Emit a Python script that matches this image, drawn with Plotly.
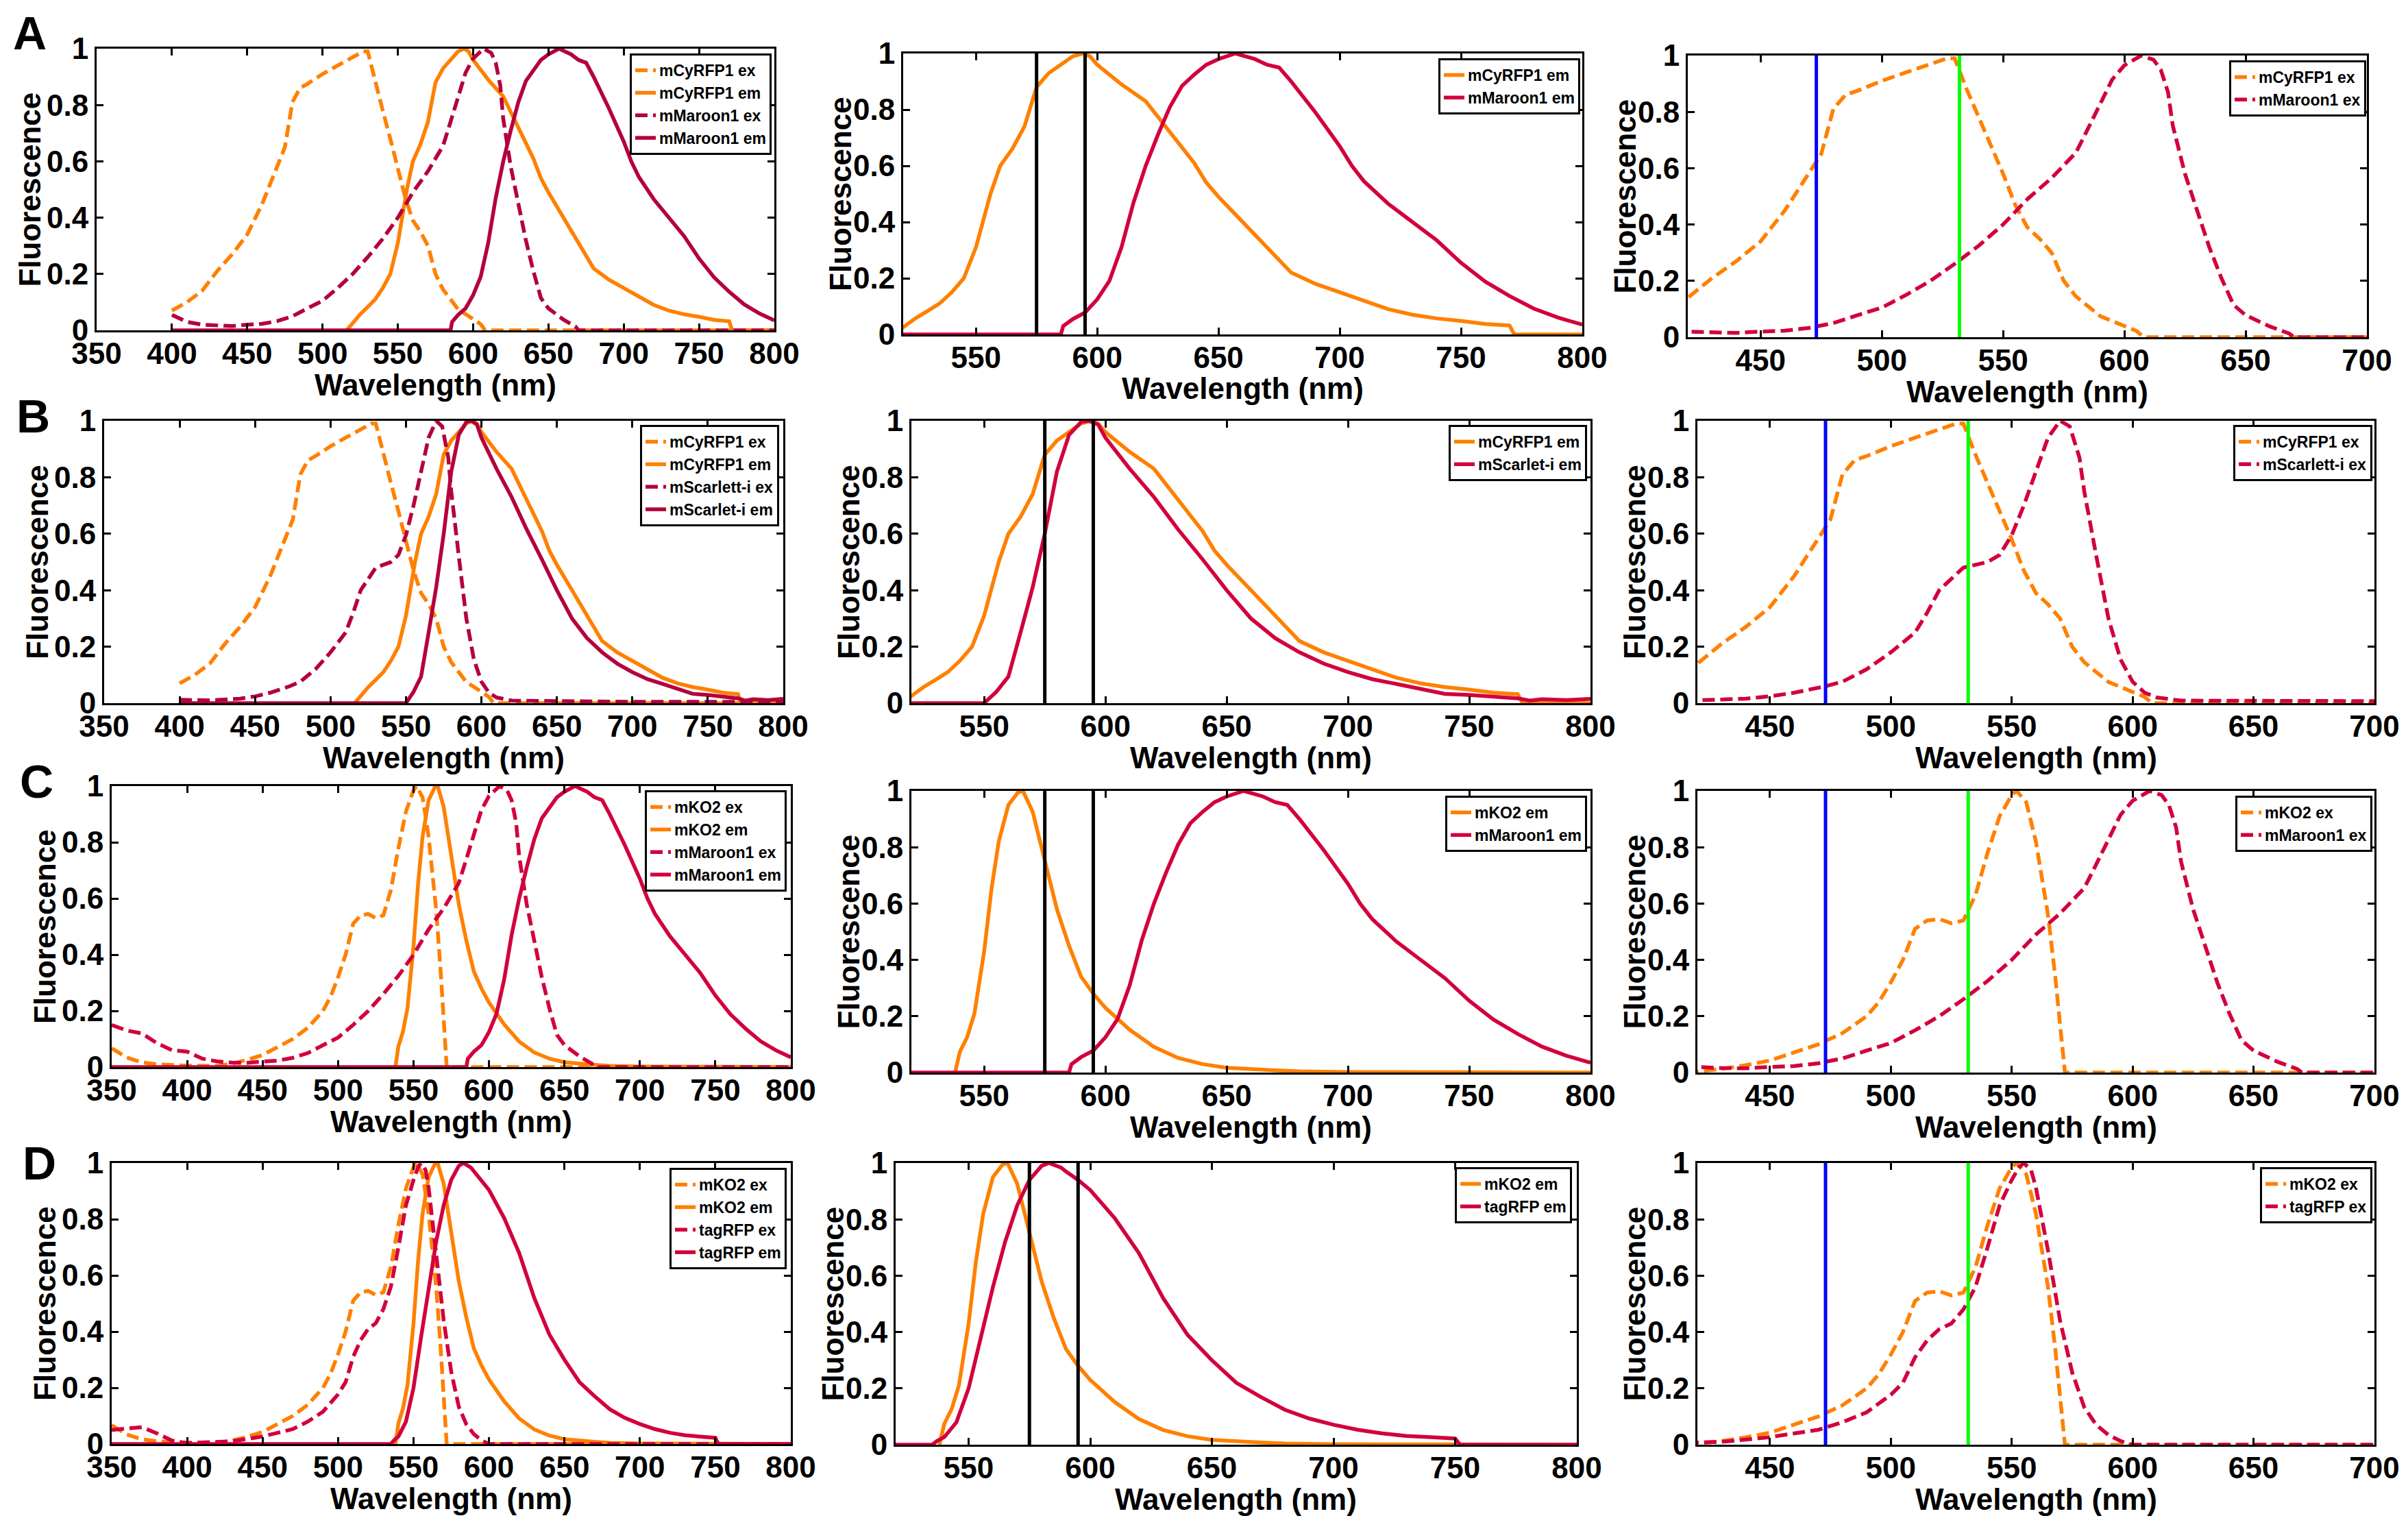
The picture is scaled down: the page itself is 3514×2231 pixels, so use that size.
import plotly.graph_objects as go

# ---- spectra (wavelength nm, normalised fluorescence) ----
mcyrfp1_ex_wl = [400, 410, 420, 430, 440, 450, 460, 470, 475, 480, 485, 490, 500, 510, 520, 527, 530,
                 535, 540, 545, 550, 555, 560, 565, 570, 575, 580, 590, 600, 605, 608, 800]
mcyrfp1_ex = [0.07, 0.10, 0.14, 0.21, 0.27, 0.34, 0.45, 0.58, 0.65, 0.81, 0.86, 0.875, 0.91, 0.94, 0.97, 0.99, 0.99,
              0.88, 0.78, 0.68, 0.58, 0.47, 0.39, 0.35, 0.30, 0.20, 0.145, 0.075, 0.04, 0.022, 0.0, 0.0]

mcyrfp1_em_wl = [516, 520, 525, 530, 535, 540, 545, 550, 553, 556, 560, 565, 570, 575, 580, 585, 590, 594, 597,
                 600, 610, 620, 630, 640, 645, 650, 660, 670, 680, 690, 700, 710, 720, 730, 740, 750, 760, 770,
                 772, 800]
mcyrfp1_em = [0.0, 0.026, 0.057, 0.083, 0.11, 0.15, 0.20, 0.31, 0.40, 0.50, 0.60, 0.66, 0.74, 0.88, 0.93, 0.96, 0.99, 1.0, 0.99,
              0.96, 0.89, 0.83, 0.72, 0.61, 0.54, 0.49, 0.40, 0.31, 0.22, 0.18, 0.15, 0.117, 0.09, 0.07, 0.057, 0.048, 0.037, 0.032,
              0.0, 0.0]

mmaroon1_ex_wl = [350, 360, 370, 380, 390, 400, 410, 420, 430, 440, 450, 460, 470, 480, 490, 500, 510, 520, 530,
                  540, 550, 560, 570, 575, 580, 585, 590, 595, 600, 607, 612, 615, 618, 620, 625, 630, 635, 640,
                  645, 650, 660, 668, 670, 800]
mmaroon1_ex = [0.15, 0.13, 0.12, 0.085, 0.06, 0.055, 0.03, 0.02, 0.016, 0.015, 0.02, 0.023, 0.033, 0.05, 0.078, 0.105, 0.15, 0.20, 0.26,
               0.325, 0.40, 0.49, 0.565, 0.61, 0.655, 0.74, 0.825, 0.915, 0.965, 1.0, 0.985, 0.95, 0.87, 0.75, 0.58, 0.45, 0.32, 0.21,
               0.115, 0.078, 0.038, 0.013, 0.0, 0.0]

mmaroon1_em_wl = [350, 400, 585, 586, 590, 595, 600, 605, 610, 615, 620, 625, 630, 635, 640, 645, 650, 657, 665,
                  670, 675, 680, 690, 700, 705, 710, 720, 730, 740, 750, 760, 770, 780, 790, 800]
mmaroon1_em = [0.0, 0.0, 0.0, 0.03, 0.055, 0.078, 0.125, 0.19, 0.31, 0.47, 0.6, 0.71, 0.81, 0.885, 0.925, 0.96, 0.98, 1.0, 0.98,
               0.96, 0.95, 0.9, 0.79, 0.67, 0.6, 0.545, 0.465, 0.4, 0.335, 0.255, 0.188, 0.137, 0.092, 0.06, 0.035]

mscarlet_ex_wl = [400, 420, 440, 450, 460, 473, 480, 490, 500, 505, 510, 515, 520, 525, 530, 535, 540, 545, 550,
                  555, 560, 565, 570, 574, 578, 580, 585, 590, 595, 600, 605, 610, 620, 650, 700, 800]
mscarlet_ex = [0.012, 0.01, 0.016, 0.024, 0.037, 0.06, 0.076, 0.12, 0.18, 0.215, 0.25, 0.32, 0.40, 0.44, 0.48, 0.49, 0.50, 0.525, 0.595,
               0.70, 0.82, 0.94, 1.0, 0.98, 0.87, 0.75, 0.52, 0.30, 0.155, 0.076, 0.037, 0.02, 0.009, 0.007, 0.005, 0.005]

mscarlet_em_wl = [400, 550, 555, 560, 565, 570, 575, 578, 580, 585, 590, 593, 597, 600, 610, 620, 630, 640, 650,
                  660, 670, 680, 690, 700, 710, 720, 730, 740, 750, 760, 770, 775, 780, 790, 800]
mscarlet_em = [0.0, 0.0, 0.04, 0.094, 0.25, 0.41, 0.60, 0.735, 0.82, 0.95, 0.996, 1.0, 0.987, 0.94, 0.83, 0.73, 0.615, 0.51, 0.40,
               0.30, 0.23, 0.18, 0.14, 0.11, 0.085, 0.068, 0.05, 0.033, 0.029, 0.024, 0.017, 0.009, 0.014, 0.011, 0.015]

mko2_ex_wl = [350, 360, 370, 380, 400, 420, 430, 440, 450, 460, 470, 480, 490, 495, 500, 505, 510, 515, 520,
              525, 530, 535, 540, 545, 550, 552, 556, 560, 565, 568, 570, 572, 800]
mko2_ex = [0.067, 0.034, 0.017, 0.01, 0.005, 0.004, 0.013, 0.026, 0.043, 0.07, 0.10, 0.14, 0.20, 0.25, 0.32, 0.40, 0.51, 0.54, 0.545,
           0.53, 0.54, 0.63, 0.78, 0.91, 0.985, 1.0, 0.96, 0.82, 0.56, 0.34, 0.17, 0.0, 0.0]

mko2_em_wl = [538, 540, 543, 546, 550, 553, 556, 560, 564, 566, 570, 575, 580, 585, 590, 595, 600, 610, 620,
              630, 640, 650, 660, 670, 680, 700, 750, 800]
mko2_em = [0.0, 0.074, 0.126, 0.21, 0.43, 0.65, 0.82, 0.95, 0.995, 1.0, 0.926, 0.75, 0.58, 0.45, 0.34, 0.28, 0.23, 0.152, 0.091,
           0.052, 0.03, 0.017, 0.011, 0.008, 0.004, 0.002, 0.001, 0.0]

tagrfp_ex_wl = [350, 360, 370, 380, 390, 400, 420, 430, 440, 450, 460, 470, 480, 490, 500, 505, 510, 515, 520,
                525, 530, 535, 540, 545, 550, 553, 555, 558, 560, 565, 570, 575, 580, 585, 590, 595, 600, 800]
tagrfp_ex = [0.05, 0.056, 0.06, 0.038, 0.012, 0.003, 0.007, 0.01, 0.018, 0.027, 0.04, 0.053, 0.08, 0.115, 0.177, 0.22, 0.31, 0.37, 0.41,
             0.43, 0.48, 0.56, 0.70, 0.85, 0.94, 0.985, 1.0, 0.975, 0.913, 0.69, 0.44, 0.257, 0.133, 0.07, 0.035, 0.013, 0.0, 0.0]

tagrfp_em_wl = [350, 535, 537, 540, 545, 550, 555, 560, 565, 570, 575, 580, 583, 588, 590, 595, 600, 610, 620,
                630, 640, 650, 660, 670, 680, 690, 700, 710, 720, 730, 740, 750, 752, 800]
tagrfp_em = [0.0, 0.0, 0.013, 0.027, 0.08, 0.20, 0.38, 0.56, 0.72, 0.85, 0.94, 0.99, 1.0, 0.984, 0.97, 0.94, 0.904, 0.805, 0.68,
             0.52, 0.39, 0.30, 0.22, 0.17, 0.124, 0.093, 0.071, 0.053, 0.04, 0.031, 0.027, 0.022, 0.0, 0.0]

# filter edges (middle column) and laser lines (right column)
em_filter_nm = [575, 595]
laser_blue_nm = 473
laser_green_nm = 532

y_ticks = [0, 0.2, 0.4, 0.6, 0.8, 1]
x_ticks_full = list(range(350, 801, 50))
x_ticks_em = list(range(550, 801, 50))
x_ticks_ex = list(range(450, 701, 50))

ORANGE = "#FF8000"
MAROON = "#B4003C"
CRIMSON = "#D2003C"
DASH = "18px,8px"
LW = 5.5
FONT = "Liberation Sans, Arial, sans-serif"

# page is offset by the default body margin
W, H, OFF = 3498, 2215, 8


def fx(p):
    return (p - OFF) / W


def fy(p):
    return 1 - (p - OFF) / H


def clip(wl, val, lo):
    keep = [(w, v) for w, v in zip(wl, val) if w >= lo]
    return [k[0] for k in keep], [k[1] for k in keep]


a_mar_ex = clip(mmaroon1_ex_wl, mmaroon1_ex, 400)
a_mar_em = clip(mmaroon1_em_wl, mmaroon1_em, 400)

rows = [
    dict(letter="A", lpos=(43, 48),
         oex=("mCyRFP1 ex", mcyrfp1_ex_wl, mcyrfp1_ex), oem=("mCyRFP1 em", mcyrfp1_em_wl, mcyrfp1_em),
         rex=("mMaroon1 ex", a_mar_ex[0], a_mar_ex[1]), rem=("mMaroon1 em", a_mar_em[0], a_mar_em[1]),
         red1=MAROON,
         boxes=[(141, 1130, 71, 482), (1318, 2309, 78, 488), (2463, 3454, 81, 492)],
         legs=[(1126, 78), (2306, 85), (3453, 88)]),
    dict(letter="B", lpos=(48, 607),
         oex=("mCyRFP1 ex", mcyrfp1_ex_wl, mcyrfp1_ex), oem=("mCyRFP1 em", mcyrfp1_em_wl, mcyrfp1_em),
         rex=("mScarlett-i ex", mscarlet_ex_wl, mscarlet_ex), rem=("mScarlet-i em", mscarlet_em_wl, mscarlet_em),
         red1=MAROON,
         boxes=[(152, 1143, 614, 1026), (1330, 2321, 614, 1026), (2477, 3465, 614, 1026)],
         legs=[(1137, 620), (2316, 620), (3462, 620)]),
    dict(letter="C", lpos=(53, 1140),
         oex=("mKO2 ex", mko2_ex_wl, mko2_ex), oem=("mKO2 em", mko2_em_wl, mko2_em),
         rex=("mMaroon1 ex", mmaroon1_ex_wl, mmaroon1_ex), rem=("mMaroon1 em", mmaroon1_em_wl, mmaroon1_em),
         red1=CRIMSON,
         boxes=[(163, 1154, 1147, 1557), (1330, 2321, 1154, 1565), (2477, 3465, 1154, 1565)],
         legs=[(1148, 1153), (2316, 1161), (3462, 1161)]),
    dict(letter="D", lpos=(57, 1697),
         oex=("mKO2 ex", mko2_ex_wl, mko2_ex), oem=("mKO2 em", mko2_em_wl, mko2_em),
         rex=("tagRFP ex", tagrfp_ex_wl, tagrfp_ex), rem=("tagRFP em", tagrfp_em_wl, tagrfp_em),
         red1=CRIMSON,
         boxes=[(163, 1154, 1697, 2107), (1307, 2301, 1697, 2108), (2477, 3465, 1697, 2108)],
         legs=[(1148, 1704), (2294, 1703), (3462, 1703)]),
]

fig = go.Figure()
layout = dict(width=W, height=H, margin=dict(l=0, r=0, t=0, b=0, pad=0, autoexpand=False),
              paper_bgcolor="white", plot_bgcolor="white", showlegend=True,
              font=dict(family=FONT, color="black"))
annotations = []

n = 0
for row in rows:
    annotations.append(dict(text=row["letter"], x=fx(row["lpos"][0]), y=fy(row["lpos"][1]),
                            xref="paper", yref="paper", showarrow=False,
                            xanchor="center", yanchor="middle",
                            font=dict(family=FONT, size=68, weight="bold", color="black")))
    for col in range(3):
        n += 1
        sfx = "" if n == 1 else str(n)
        xa, ya, lg = "x" + sfx, "y" + sfx, "legend" + sfx
        red = row["red1"] if col == 0 else CRIMSON
        if col == 0:
            series = [(row["oex"], ORANGE, DASH), (row["oem"], ORANGE, "solid"),
                      (row["rex"], red, DASH), (row["rem"], red, "solid")]
            xr, xt = [350, 800], x_ticks_full
            marks = []
        elif col == 1:
            series = [(row["oem"], ORANGE, "solid"), (row["rem"], red, "solid")]
            xr, xt = [520, 800], x_ticks_em
            marks = [(em_filter_nm[0], "black"), (em_filter_nm[1], "black")]
        else:
            series = [(row["oex"], ORANGE, DASH), (row["rex"], red, DASH)]
            xr, xt = [420, 700], x_ticks_ex
            marks = [(laser_blue_nm, "#0000FF"), (laser_green_nm, "#00FF00")]

        for (name, wl, val), color, dash in series:
            fig.add_trace(go.Scatter(x=wl, y=val, mode="lines", name=name, xaxis=xa, yaxis=ya,
                                     legend=lg, line=dict(color=color, width=LW, dash=dash)))
        for pos, color in marks:
            fig.add_trace(go.Scatter(x=[pos, pos], y=[0, 1], mode="lines", xaxis=xa, yaxis=ya,
                                     showlegend=False, line=dict(color=color, width=5)))

        left, right, top, bottom = row["boxes"][col]
        axis_common = dict(showline=True, linecolor="black", linewidth=3, mirror="ticks",
                           ticks="inside", ticklen=10, tickwidth=3, tickcolor="black",
                           showgrid=False, zeroline=False, fixedrange=True, automargin=False,
                           tickfont=dict(family=FONT, size=44, weight="bold", color="black"))
        layout["xaxis" + sfx] = dict(axis_common, domain=[fx(left), fx(right)], range=xr,
                                     tickvals=xt, anchor=ya, ticklabelstandoff=-7)
        layout["yaxis" + sfx] = dict(axis_common, domain=[fy(bottom), fy(top)], range=[0, 1],
                                     tickvals=y_ticks, anchor=xa)
        lx, ly = row["legs"][col]
        layout[lg] = dict(x=fx(lx), y=fy(ly), xanchor="right", yanchor="top", xref="paper", yref="paper",
                          bgcolor="white", bordercolor="black", borderwidth=3, tracegroupgap=0,
                          font=dict(family=FONT, size=23, weight="bold", color="black"))

        ytoff = 98 if col == 0 else 92
        annotations.append(dict(text="Wavelength (nm)", x=fx((left + right) / 2), y=fy(bottom + 79),
                                xref="paper", yref="paper", showarrow=False,
                                xanchor="center", yanchor="middle",
                                font=dict(family=FONT, size=44, weight="bold", color="black")))
        annotations.append(dict(text="Fluorescence", x=fx(left - ytoff), y=fy((top + bottom) / 2),
                                xref="paper", yref="paper", showarrow=False, textangle=-90,
                                xanchor="center", yanchor="middle",
                                font=dict(family=FONT, size=44, weight="bold", color="black")))

layout["annotations"] = annotations
fig.update_layout(**layout)
fig.write_html("out.html")
